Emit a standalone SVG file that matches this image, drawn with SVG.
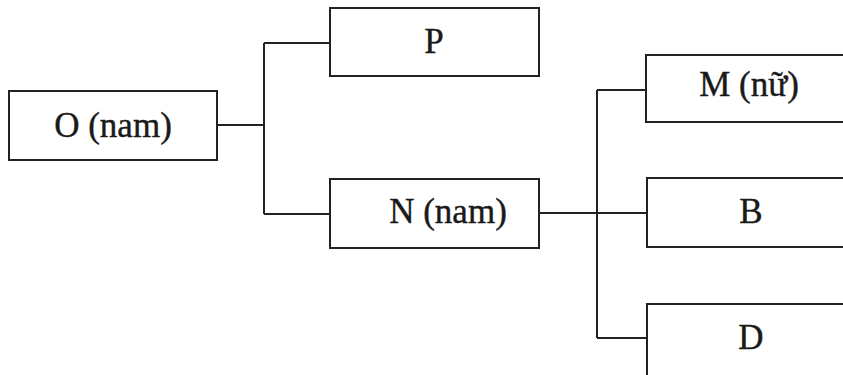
<svg xmlns="http://www.w3.org/2000/svg" width="843" height="375" viewBox="0 0 843 375">
<style>
.box{fill:#fff;stroke:#222;stroke-width:2}
.lbl{font-family:"Liberation Serif","Times New Roman",serif;font-size:35px;fill:#1a1a1a;stroke:#1a1a1a;stroke-width:0.4;text-anchor:middle}
.ln{stroke:#222;stroke-width:2;fill:none}
</style>
<rect width="843" height="375" fill="#fff"/>
<g id="connectors">
<path class="ln" d="M217 125 H264 M264 43 V214 M264 43 H330 M264 214 H330"/>
<path class="ln" d="M539 213 H647 M597 90 V338 M597 90 H646 M597 338 H647"/>
</g>
<g id="O"><rect class="box" x="9" y="91" width="208" height="69"/><text class="lbl" x="113" y="137">O (nam)</text></g>
<g id="P"><rect class="box" x="330" y="8" width="209" height="68"/><text class="lbl" x="434" y="53">P</text></g>
<g id="N"><rect class="box" x="330" y="179" width="209" height="69"/><text class="lbl" x="448" y="223">N (nam)</text></g>
<g id="M"><rect class="box" x="646" y="55" width="210" height="67"/><text class="lbl" x="749" y="96">M (nữ)</text></g>
<g id="B"><rect class="box" x="647" y="178" width="210" height="69"/><text class="lbl" x="751" y="223">B</text></g>
<g id="D"><rect class="box" x="647" y="304" width="210" height="80"/><text class="lbl" x="751" y="349">D</text></g>
</svg>
